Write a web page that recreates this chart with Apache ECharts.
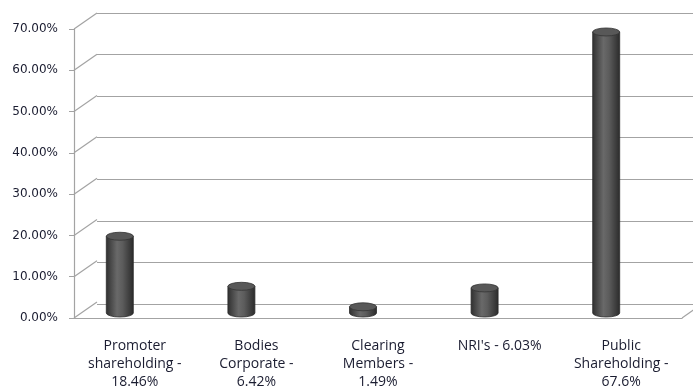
<!DOCTYPE html>
<html>
<head>
<meta charset="UTF-8">
<title>Shareholding pattern</title>
<script src="https://cdn.jsdelivr.net/npm/echarts@6/dist/echarts.min.js"></script>
<style>
  html, body { margin: 0; padding: 0; background: #fff; }
  #main { width: 693px; height: 391px; }
</style>
</head>
<body>
<div id="main"></div>
<script type="text/javascript">
// data
var categories = ['Promoter\nshareholding -\n18.46%', 'Bodies\nCorporate -\n6.42%', 'Clearing\nMembers -\n1.49%', "NRI's - 6.03%", 'Public\nShareholding -\n67.6%'];
var values = [18.46, 6.42, 1.49, 6.03, 67.6];
var yTicks = [0, 10, 20, 30, 40, 50, 60, 70];

// 3d depth offset of the back wall
var DX = 23, DY = -16;
var gridColor = '#a3a3a3';
var textColor = '#1a1c30';

var myChart = echarts.init(document.getElementById('main'));

// diagonal lines joining front axis to back wall
function renderDiag(params, api) {
    var v = api.value(0);
    var band = api.size([1, 0])[0];
    var p = api.coord([0, v]);
    var x0 = p[0] - band / 2;
    var children = [{
        type: 'line',
        shape: { x1: x0, y1: p[1], x2: x0 + DX, y2: p[1] + DY },
        style: { stroke: gridColor, lineWidth: 1.2 }
    }];
    if (v === 0) {
        var q = api.coord([categories.length - 1, 0]);
        var x1 = q[0] + band / 2;
        children.push({
            type: 'line',
            shape: { x1: x1, y1: q[1], x2: x1 + DX, y2: q[1] + DY },
            style: { stroke: gridColor, lineWidth: 1.2 }
        });
    }
    return { type: 'group', children: children };
}

// cylinder
function renderCyl(params, api) {
    var top = api.coord([api.value(0), api.value(1)]);
    var base = api.coord([api.value(0), 0]);
    var r = 13.5, ry = 4;
    var x = top[0], yt = top[1], yb = base[1];
    var grad = new echarts.graphic.LinearGradient(0, 0, 1, 0, [
        { offset: 0, color: '#2f2f2f' },
        { offset: 0.4, color: '#696969' },
        { offset: 0.6, color: '#5c5c5c' },
        { offset: 1, color: '#2a2a2a' }
    ]);
    var body = 'M' + (x - r) + ' ' + yt + ' L' + (x - r) + ' ' + yb +
        ' A' + r + ' ' + ry + ' 0 0 0 ' + (x + r) + ' ' + yb +
        ' L' + (x + r) + ' ' + yt + ' Z';
    var cap = 'M' + (x - r) + ' ' + yt +
        ' A' + r + ' ' + ry + ' 0 1 1 ' + (x + r) + ' ' + yt +
        ' A' + r + ' ' + ry + ' 0 1 1 ' + (x - r) + ' ' + yt + ' Z';
    return {
        type: 'group',
        children: [
            { type: 'path', shape: { pathData: body }, style: { fill: grad, stroke: '#2b2b2b', lineWidth: 0.8 } },
            { type: 'path', shape: { pathData: cap }, style: { fill: '#585858', stroke: '#333', lineWidth: 0.8 } }
        ]
    };
}

myChart.setOption({
    animation: false,
    grid: [
        // back wall
        { left: 97, top: 13, width: 620, height: 291 },
        // front axes
        { left: 74, top: 29, width: 608, height: 292 },
        // plane of the cylinders
        { left: 59, top: 22, width: 608, height: 291 }
    ],
    xAxis: [
        { gridIndex: 0, type: 'category', data: categories, show: false },
        {
            gridIndex: 1, type: 'category', data: categories,
            axisLine: { lineStyle: { color: gridColor, width: 1.2 } },
            axisTick: { length: 5, lineStyle: { color: gridColor } },
            axisLabel: {
                interval: 0, margin: 19, color: textColor,
                fontFamily: 'Open Sans', fontSize: 14, lineHeight: 18
            }
        },
        { gridIndex: 2, type: 'category', data: categories, show: false }
    ],
    yAxis: [
        {
            gridIndex: 0, type: 'value', min: 0, max: 70, interval: 10,
            axisLine: { show: false }, axisTick: { show: false }, axisLabel: { show: false },
            splitLine: { show: true, lineStyle: { color: gridColor, width: 1.2 } }
        },
        {
            gridIndex: 1, type: 'value', min: 0, max: 70, interval: 10,
            axisLine: { show: true, lineStyle: { color: gridColor, width: 1.2 } },
            axisTick: { show: true, length: 5, lineStyle: { color: gridColor } },
            splitLine: { show: false },
            axisLabel: {
                margin: 16, color: textColor, fontFamily: 'DejaVu Sans', fontSize: 12,
                padding: [4, 0, 0, 0],
                formatter: function (v) { return v.toFixed(2) + '%'; }
            }
        },
        { gridIndex: 2, type: 'value', min: 0, max: 70, show: false, splitLine: { show: false } }
    ],
    series: [
        {
            type: 'custom', xAxisIndex: 1, yAxisIndex: 1,
            data: yTicks.map(function (v) { return [v]; }),
            renderItem: renderDiag, silent: true, z: 1
        },
        {
            type: 'custom', xAxisIndex: 2, yAxisIndex: 2,
            data: values.map(function (v, i) { return [i, v]; }),
            renderItem: renderCyl, z: 5
        }
    ]
});
</script>
</body>
</html>
